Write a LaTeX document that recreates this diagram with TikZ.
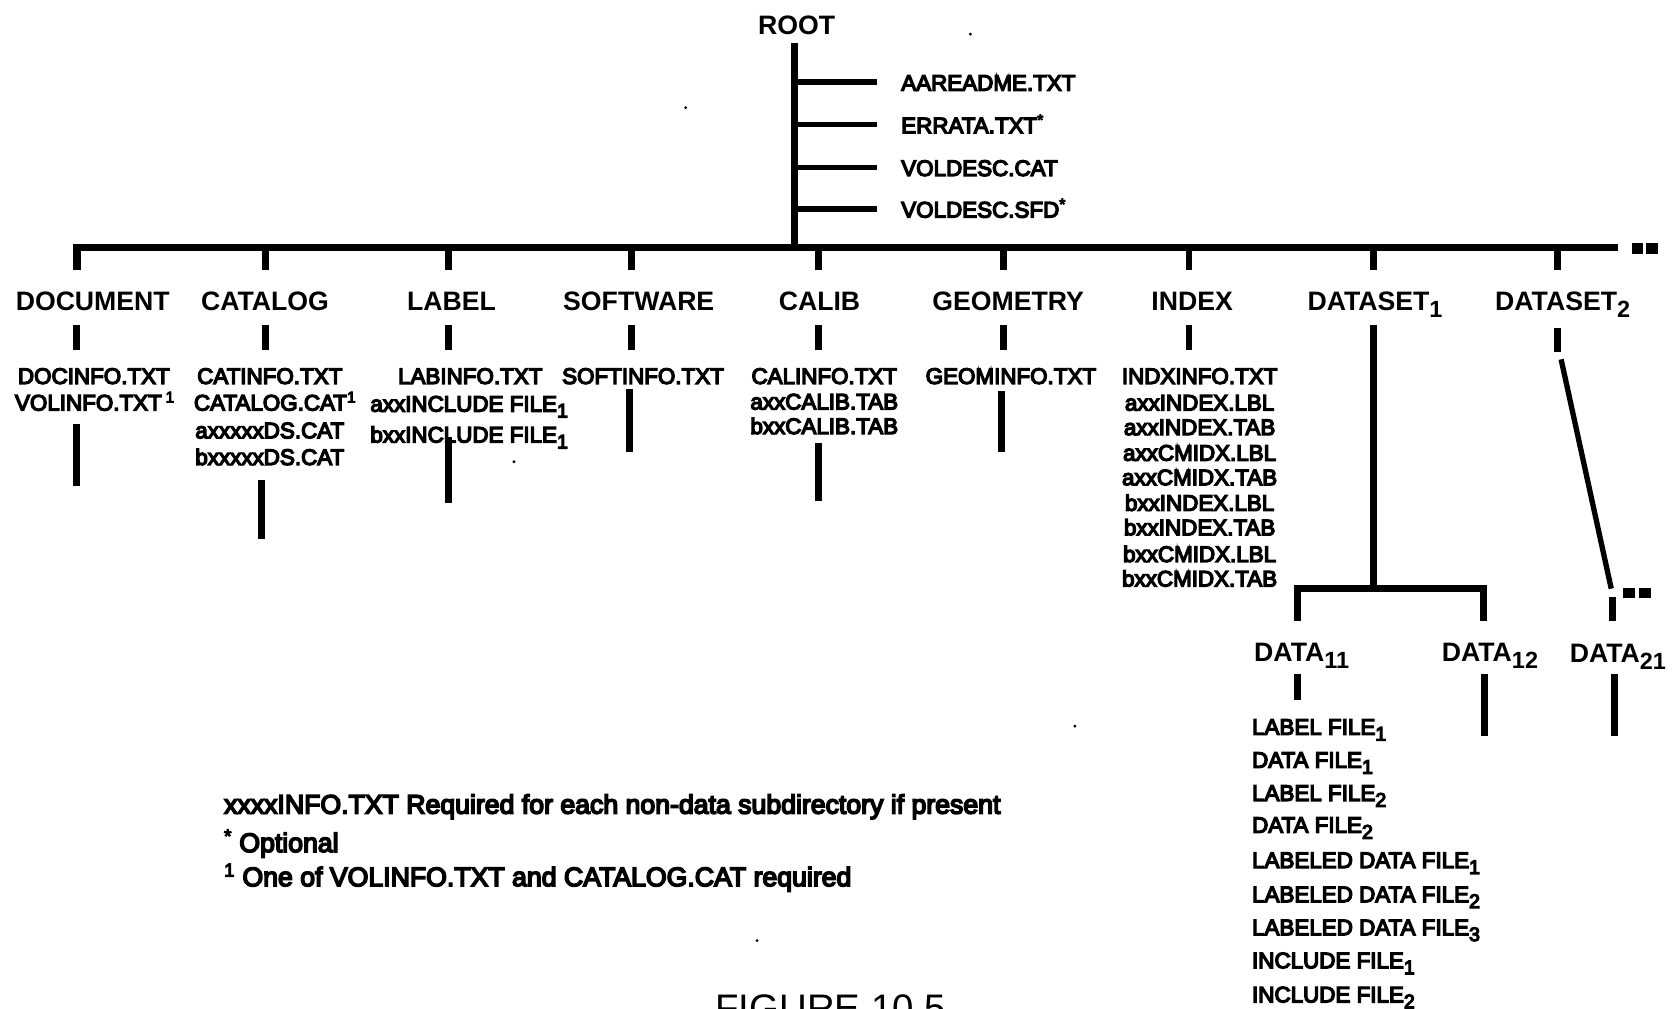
\documentclass[tikz,border=0pt]{standalone}
\usepackage{fontspec}
\setmainfont{Liberation Sans}
\newfontfamily\filefont{Liberation Sans}[FakeBold=6]
\newcommand\hdrfont{\fontsize{25}{28}\selectfont\bfseries}
\newcommand\fnfont{\filefont\fontsize{21}{24}\selectfont}
\newcommand\notefont{\filefont\fontsize{25}{28}\selectfont}
\newcommand\sbs[1]{\raisebox{-0.5ex}{\scalebox{0.88}{#1}}}
\tikzset{
  hdr/.style={font=\hdrfont, inner sep=0pt, anchor=base},
  fn/.style={font=\fnfont, inner sep=0pt, anchor=base},
  fnw/.style={fn, anchor=base west},
  note/.style={font=\notefont, inner sep=0pt, anchor=base west},
  bar/.style={line width=6.5pt, line join=miter},
  stub/.style={line width=5pt},
}
\begin{document}
\begin{tikzpicture}[x=1pt,y=-1pt]
\useasboundingbox (0,0) rectangle (1568,946);
\clip (0,0) rectangle (1568,946);
\fill[white] (0,0) rectangle (1568,946);

% ROOT
\node[hdr] (root) at (747,32) {ROOT};
\coordinate (rtop) at (745,40);
\coordinate (rbot) at (745,232);
\draw[bar, line width=6pt] (rtop) -- (rbot);
\foreach \y/\t/\n in {77/AAREADME.TXT/f1, 117/ERRATA.TXT\textsuperscript{*}/f2, 157/VOLDESC.CAT/f3, 196/VOLDESC.SFD\textsuperscript{*}/f4}{
  \draw[stub] (745,\y) -- (822,\y);
  \node[fnw] (\n) at (845,\y+8) {\t};
}

% main bar
\coordinate (mbL) at (72,232);
\coordinate (mbR) at (1517,232);
\draw[bar, line width=7pt] (72,253) -- (mbL) -- (mbR);
\fill (1530,228) rectangle (1541,238);
\fill (1544,228) rectangle (1555,238);
\foreach \x in {249,421,592,768,941,1115,1288,1461}{
  \draw[bar] (\x,232) -- (\x,253);
}

% headers
\node[hdr] (doc)  at (87,291)   {DOCUMENT};
\node[hdr] (cat)  at (248.5,291) {CATALOG};
\node[hdr] (lab)  at (423.5,291) {LABEL};
\node[hdr] (soft) at (599,291)  {SOFTWARE};
\node[hdr] (cal)  at (768.5,291) {CALIB};
\node[hdr] (geo)  at (945.5,291) {GEOMETRY};
\node[hdr] (idx)  at (1118,291) {INDEX};
\node[hdr, anchor=base west] (ds1) at (1226,291) {DATASET\sbs{1}};
\node[hdr, anchor=base west] (ds2) at (1402,291) {DATASET\sbs{2}};

\foreach \x in {72,249,421,592,768,941,1115}{
  \draw[bar] (\x,305) -- (\x,328);
}
\draw[bar] (1461,308) -- (1461,330);

% DOCUMENT
\node[fn] (d1) at (88,360) {DOCINFO.TXT};
\node[fn] (d2) at (89,385) {VOLINFO.TXT\,\textsuperscript{1}};
\draw[bar] (72,398) -- (72,456);

% CATALOG
\node[fn] (c1) at (253,360) {CATINFO.TXT};
\node[fn] (c2) at (258,385) {CATALOG.CAT\textsuperscript{1}};
\node[fn] (c3) at (253,411) {axxxxxDS.CAT};
\node[fn] (c4) at (253,436) {bxxxxxDS.CAT};
\draw[bar] (245,450) -- (245,505);

% LABEL
\node[fn] (l1) at (441,360) {LABINFO.TXT};
\node[fn] (l2) at (440,386) {axxINCLUDE FILE\sbs{1}};
\node[fn] (l3) at (440,415) {bxxINCLUDE FILE\sbs{1}};
\draw[bar] (421,410) -- (421,472);

% SOFTWARE
\node[fn] (s1) at (603,360) {SOFTINFO.TXT};
\draw[bar] (590,365) -- (590,424);

% CALIB
\node[fn] (k1) at (773,360) {CALINFO.TXT};
\node[fn] (k2) at (773,384) {axxCALIB.TAB};
\node[fn] (k3) at (773,407) {bxxCALIB.TAB};
\draw[bar] (768,415) -- (768,470);

% GEOMETRY
\node[fn] (g1) at (948,360) {GEOMINFO.TXT};
\draw[bar] (939,367) -- (939,424);

% INDEX
\foreach \y/\t/\n in {352/INDXINFO.TXT/i1, 377/axxINDEX.LBL/i2, 400/axxINDEX.TAB/i3,
  424/axxCMIDX.LBL/i4, 447/axxCMIDX.TAB/i5, 471/bxxINDEX.LBL/i6, 494/bxxINDEX.TAB/i7,
  519/bxxCMIDX.LBL/i8, 542/bxxCMIDX.TAB/i9}{
  \node[fn] (\n) at (1125,\y+8) {\t};
}

% DATASET1
\coordinate (dsj) at (1288,552);
\draw[bar] (1288,305) -- (dsj);
\draw[bar, line width=7pt] (1217,582) -- (1217,552) -- (1391,552) -- (1391,582);

% DATASET2
\draw[stub] (1464,337) -- (1511,552);
\draw[bar] (1512,560) -- (1512,582);
\fill (1522,551) rectangle (1533,561);
\fill (1537,551) rectangle (1548,561);

% DATA headers
\node[hdr, anchor=base west] (d11) at (1176,620) {DATA\sbs{11}};
\node[hdr, anchor=base west] (d12) at (1352,620) {DATA\sbs{12}};
\node[hdr, anchor=base west] (d21) at (1472,621) {DATA\sbs{21}};
\draw[bar] (1217,632) -- (1217,656);
\draw[bar] (1392,632) -- (1392,690);
\draw[bar] (1514,632) -- (1514,690);

% DATA11 files
\foreach \y/\t/\n in {681/LABEL FILE\sbs{1}/e1, 712/DATA FILE\sbs{1}/e2, 743/LABEL FILE\sbs{2}/e3,
  773/DATA FILE\sbs{2}/e4, 806/LABELED DATA FILE\sbs{1}/e5, 838/LABELED DATA FILE\sbs{2}/e6,
  869/LABELED DATA FILE\sbs{3}/e7, 900/INCLUDE FILE\sbs{1}/e8, 932/INCLUDE FILE\sbs{2}/e9}{
  \node[fnw] (\n) at (1174,\y+8) {\t};
}

% notes
\node[note] (n1) at (210,763) {xxxxINFO.TXT Required for each non-data subdirectory if present};
\node[note] (n2) at (210,799) {\textsuperscript{*} Optional};
\node[note] (n3) at (210,831) {\textsuperscript{1} One of VOLINFO.TXT and CATALOG.CAT required};

% caption (cut off at the bottom edge, as in the reference)
\node[font=\fontsize{36}{40}\selectfont, inner sep=0pt, anchor=base] (fig) at (779,958) {FIGURE 10.5};

% specks
\fill (643,101) circle (1.5);
\fill (910,32) circle (1.5);
\fill (1008,681) circle (1.5);
\fill (710,882) circle (1.5);
\fill (482,433) circle (1.5);
\end{tikzpicture}
\end{document}
